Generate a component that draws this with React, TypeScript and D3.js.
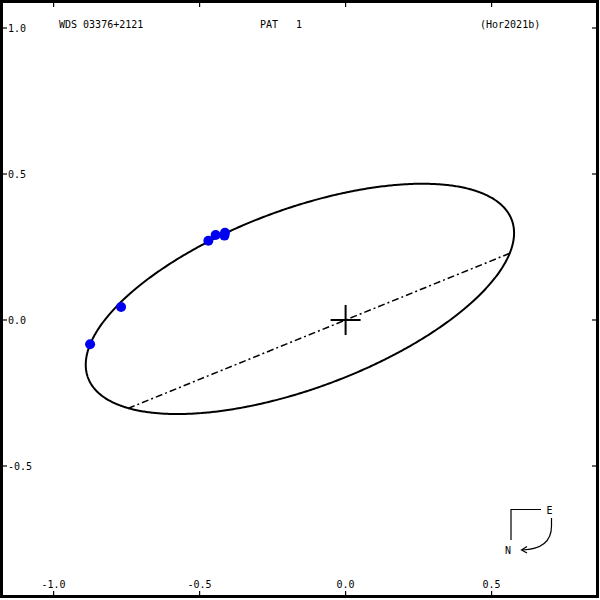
import React from "react";
import * as d3 from "d3";

// Header texts
const titleLeft = "WDS 03376+2121";
const titleMid = "PAT   1";
const titleRight = "(Hor2021b)";

// Axis ticks (arcsec)
const xTicks = [-1.0, -0.5, 0.0, 0.5];
const yTicks = [1.0, 0.5, 0.0, -0.5];
const xTickLabels = ["-1.0", "-0.5", "0.0", "0.5"];
const yTickLabels = ["1.0", "0.5", "0.0", "-0.5"];

// Orbit: eccentricity and Thiele-Innes constants (projected, arcsec)
const ecc = 0.429;
const tiA = 0.3648;
const tiB = -0.1685;
const tiF = 0.7044;
const tiG = 0.3947;

// Line of nodes direction (through the primary)
const nodeDirX = 1.2895;
const nodeDirY = 0.524;

// Observations (x, y in arcsec)
const obsX = [-0.875, -0.769, -0.47, -0.445, -0.413, -0.415];
const obsY = [-0.083, 0.0445, 0.2716, 0.291, 0.299, 0.289];

const W = 600;
const H = 600;

export default function App() {
  const x = d3.scaleLinear().domain([-1.1836, 0.8644]).range([0, 598]);
  const y = d3.scaleLinear().domain([1.0959, -0.9521]).range([0, 598]);

  const sq = Math.sqrt(1 - ecc * ecc);
  const orbitAt = (E: number): [number, number] => {
    const cx = Math.cos(E) - ecc;
    const cy = sq * Math.sin(E);
    return [tiA * cx + tiF * cy, tiB * cx + tiG * cy];
  };
  const N = 720;
  const pts: [number, number][] = d3.range(N + 1).map((i) => orbitAt((i / N) * 2 * Math.PI));
  const line = d3
    .line<[number, number]>()
    .x((d) => x(d[0]))
    .y((d) => y(d[1]));
  const orbitPath = line(pts) || "";

  // node intersections
  const nodes: [number, number][] = [];
  for (let i = 0; i < N; i++) {
    const p = pts[i];
    const q = pts[i + 1];
    const c1 = p[0] * nodeDirY - p[1] * nodeDirX;
    const c2 = q[0] * nodeDirY - q[1] * nodeDirX;
    if ((c1 <= 0 && c2 > 0) || (c1 >= 0 && c2 < 0)) {
      const t = c1 / (c1 - c2);
      nodes.push([p[0] + t * (q[0] - p[0]), p[1] + t * (q[1] - p[1])]);
    }
  }

  const font = "'DejaVu Sans Mono', monospace";
  const fs = 10;

  return (
    <svg
      width={W}
      height={H}
      style={{ position: "absolute", left: 0, top: 0, background: "#fff" }}
    >
      <rect x={0} y={0} width={W} height={H} fill="#fff" />
      {/* frame */}
      <rect x={1.5} y={1.5} width={596} height={595} fill="none" stroke="#000" strokeWidth={3} />

      {/* ticks */}
      {xTicks.map((t, i) => (
        <g key={"xt" + i}>
          <line x1={x(t)} x2={x(t)} y1={3} y2={7} stroke="#000" strokeWidth={1.2} />
          <line x1={x(t)} x2={x(t)} y1={595} y2={591} stroke="#000" strokeWidth={1.2} />
          <text
            x={x(t)}
            y={588}
            textAnchor="middle"
            fontFamily={font}
            fontSize={fs}
            fill="#000"
          >
            {xTickLabels[i]}
          </text>
        </g>
      ))}
      {yTicks.map((t, i) => (
        <g key={"yt" + i}>
          <line x1={3} x2={7} y1={y(t)} y2={y(t)} stroke="#000" strokeWidth={1.2} />
          <line x1={596} x2={592} y1={y(t)} y2={y(t)} stroke="#000" strokeWidth={1.2} />
          <text x={8} y={y(t) + 4} fontFamily={font} fontSize={fs} fill="#000">
            {yTickLabels[i]}
          </text>
        </g>
      ))}

      {/* header */}
      <text x={59} y={28} fontFamily={font} fontSize={fs} fill="#000">
        {titleLeft}
      </text>
      <text x={260} y={28} fontFamily={font} fontSize={fs} fill="#000" style={{ whiteSpace: "pre" }}>
        {titleMid}
      </text>
      <text x={480} y={28} fontFamily={font} fontSize={fs} fill="#000">
        {titleRight}
      </text>

      {/* orbit */}
      <path d={orbitPath} fill="none" stroke="#000" strokeWidth={2} />

      {/* line of nodes */}
      {nodes.length >= 2 && (
        <line
          x1={x(nodes[0][0])}
          y1={y(nodes[0][1])}
          x2={x(nodes[1][0])}
          y2={y(nodes[1][1])}
          stroke="#000"
          strokeWidth={1.5}
          strokeDasharray="7,3,2,3"
        />
      )}

      {/* primary */}
      <line x1={x(0) - 15} x2={x(0) + 15} y1={y(0)} y2={y(0)} stroke="#000" strokeWidth={2} />
      <line x1={x(0)} x2={x(0)} y1={y(0) - 15} y2={y(0) + 15} stroke="#000" strokeWidth={2} />

      {/* observations */}
      {obsX.map((ox, i) => (
        <circle key={"o" + i} cx={x(ox)} cy={y(obsY[i])} r={5} fill="#0000f0" />
      ))}

      {/* compass */}
      <path d="M541,509.5 L511,509.5 L511,540" fill="none" stroke="#000" strokeWidth={1.2} />
      <text x={549.5} y={513.5} textAnchor="middle" fontFamily={font} fontSize={fs} fill="#000">
        E
      </text>
      <text x={508} y={554} textAnchor="middle" fontFamily={font} fontSize={fs} fill="#000">
        N
      </text>
      <path d="M551.5,518 L551.5,526 Q551.5,549 522,550" fill="none" stroke="#000" strokeWidth={1.2} />
      <path d="M527,546.5 L521.5,550 L527,553" fill="none" stroke="#000" strokeWidth={1.2} />
    </svg>
  );
}
